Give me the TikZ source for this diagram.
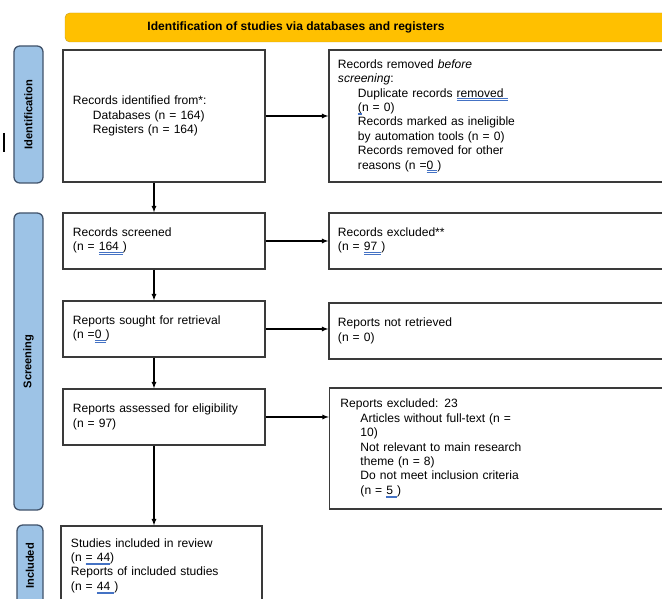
\documentclass[tikz,border=0pt]{standalone}
\usepackage{fontspec}
\setmainfont{Liberation Sans}
\usepackage{tikz}
\usepackage{color}
\definecolor{prismagold}{HTML}{FFC000}
\definecolor{golddark}{HTML}{C9A227}
\definecolor{prismablue}{HTML}{9DC3E6}
\definecolor{blueedge}{HTML}{41536B}
\definecolor{boxgrey}{HTML}{3A3A3A}
\definecolor{spellblue}{HTML}{4472C4}
\newcommand{\ind}{\hspace*{0.6cm}}
\newcommand{\spell}[1]{\sbox0{#1}\rlap{\usebox0}\textcolor{spellblue}{\rule[-1.6pt]{\wd0}{0.45pt}}\hspace{-\wd0}\textcolor{spellblue}{\rule[-2.9pt]{\wd0}{0.45pt}}}

\begin{document}
\begin{tikzpicture}[x=0.03cm,y=-0.03cm,font=\fontsize{10.3}{12.3}\selectfont,
	box/.style={draw=boxgrey,line width=1.1pt,inner xsep=0.3cm,align=left},
	leftbox/.style={box,minimum width=6.06cm,text width=5.46cm},
	rightbox/.style={box,inner xsep=0.27cm,minimum width=10.83cm,text width=10.29cm},
	side/.style={draw=blueedge,fill=prismablue,line width=1.1pt,rounded corners=5pt,rotate=90,font=\fontsize{9.5}{11}\selectfont\bfseries,minimum height=0.87cm},
	arr/.style={-latex,line width=0.9pt}]
	\useasboundingbox (0,0) rectangle (662,599);
	\clip (0,0) rectangle (662,599);
	\draw[fill=prismagold,draw=golddark,rounded corners=4pt] (65,13) rectangle (700,42);
	\node[font=\fontsize{10.3}{12}\selectfont\bfseries] (title) at (296,27.5) {Identification of studies via databases and registers};
	\node[side,minimum width=4.11cm] (sideid) at (28.5,114.5) {Identification};
	\node[side,minimum width=8.91cm] (sidescr) at (28.5,361.5) {Screening};
	\node[side,minimum width=2.46cm,minimum height=0.78cm] (sideinc) at (30,566) {Included};
	\draw[line width=1.2pt] (4,133) -- (4,152);

	\node[leftbox,minimum height=3.96cm] (ident) at (164,116) {Records identified from*:\\ \ind Databases (n = 164)\\ \ind Registers (n = 164)};
	\node[rightbox,minimum height=3.96cm] (removed) at (509.5,116) {Records removed \textit{before}\\ \textit{screening}:\\ \ind Duplicate records \spell{removed }\\ \ind \spell{(}n = 0)\\ \ind Records marked as ineligible\\ \ind by automation tools (n = 0)\\ \ind Records removed for other\\ \ind reasons (n =\spell{0 })};
	\node[leftbox,minimum height=1.68cm] (screened) at (164,241) {Records screened\\(n = \spell{164 })};
	\node[rightbox,minimum height=1.68cm] (excluded) at (509.5,241) {Records excluded**\\(n = \spell{97 })};
	\node[leftbox,minimum height=1.68cm] (sought) at (164,329) {Reports sought for retrieval\\(n =\spell{0 })};
	\node[rightbox,minimum height=1.68cm] (notret) at (509.5,331) {Reports not retrieved\\(n = 0)};
	\node[leftbox,minimum height=1.68cm] (assessed) at (164,417) {Reports assessed for eligibility\\(n = 97)};
	\node[rightbox,inner xsep=0.33cm,text width=10.17cm,minimum height=3.63cm] (repexcl) at (510,448.5) {Reports excluded: 23\\ \ind Articles without full-text (n =\\ \ind 10)\\ \ind Not relevant to main research\\ \ind theme (n = 8)\\ \ind Do not meet inclusion criteria\\ \ind (n = \spell{5 })};
	\node[leftbox,minimum width=6.03cm,text width=5.43cm,minimum height=2.4cm] (included) at (161.5,566) {Studies included in review\\(n \spell{= 44})\\Reports of included studies\\(n = \spell{44 })};

	\draw[arr] (ident.east) -- (removed.west);
	\draw[arr] (screened.east) -- (excluded.west);
	\draw[arr] (sought.east) -- (sought.east -| notret.west);
	\draw[arr] (assessed.east) -- (assessed.east -| repexcl.west);
	\draw[arr] ([xshift=-0.3cm]ident.south) -- ([xshift=-0.3cm]screened.north);
	\draw[arr] ([xshift=-0.3cm]screened.south) -- ([xshift=-0.3cm]sought.north);
	\draw[arr] ([xshift=-0.3cm]sought.south) -- ([xshift=-0.3cm]assessed.north);
	\draw[arr] ([xshift=-0.3cm]assessed.south) -- ([xshift=-0.3cm]assessed.south |- included.north);
\end{tikzpicture}
\end{document}
